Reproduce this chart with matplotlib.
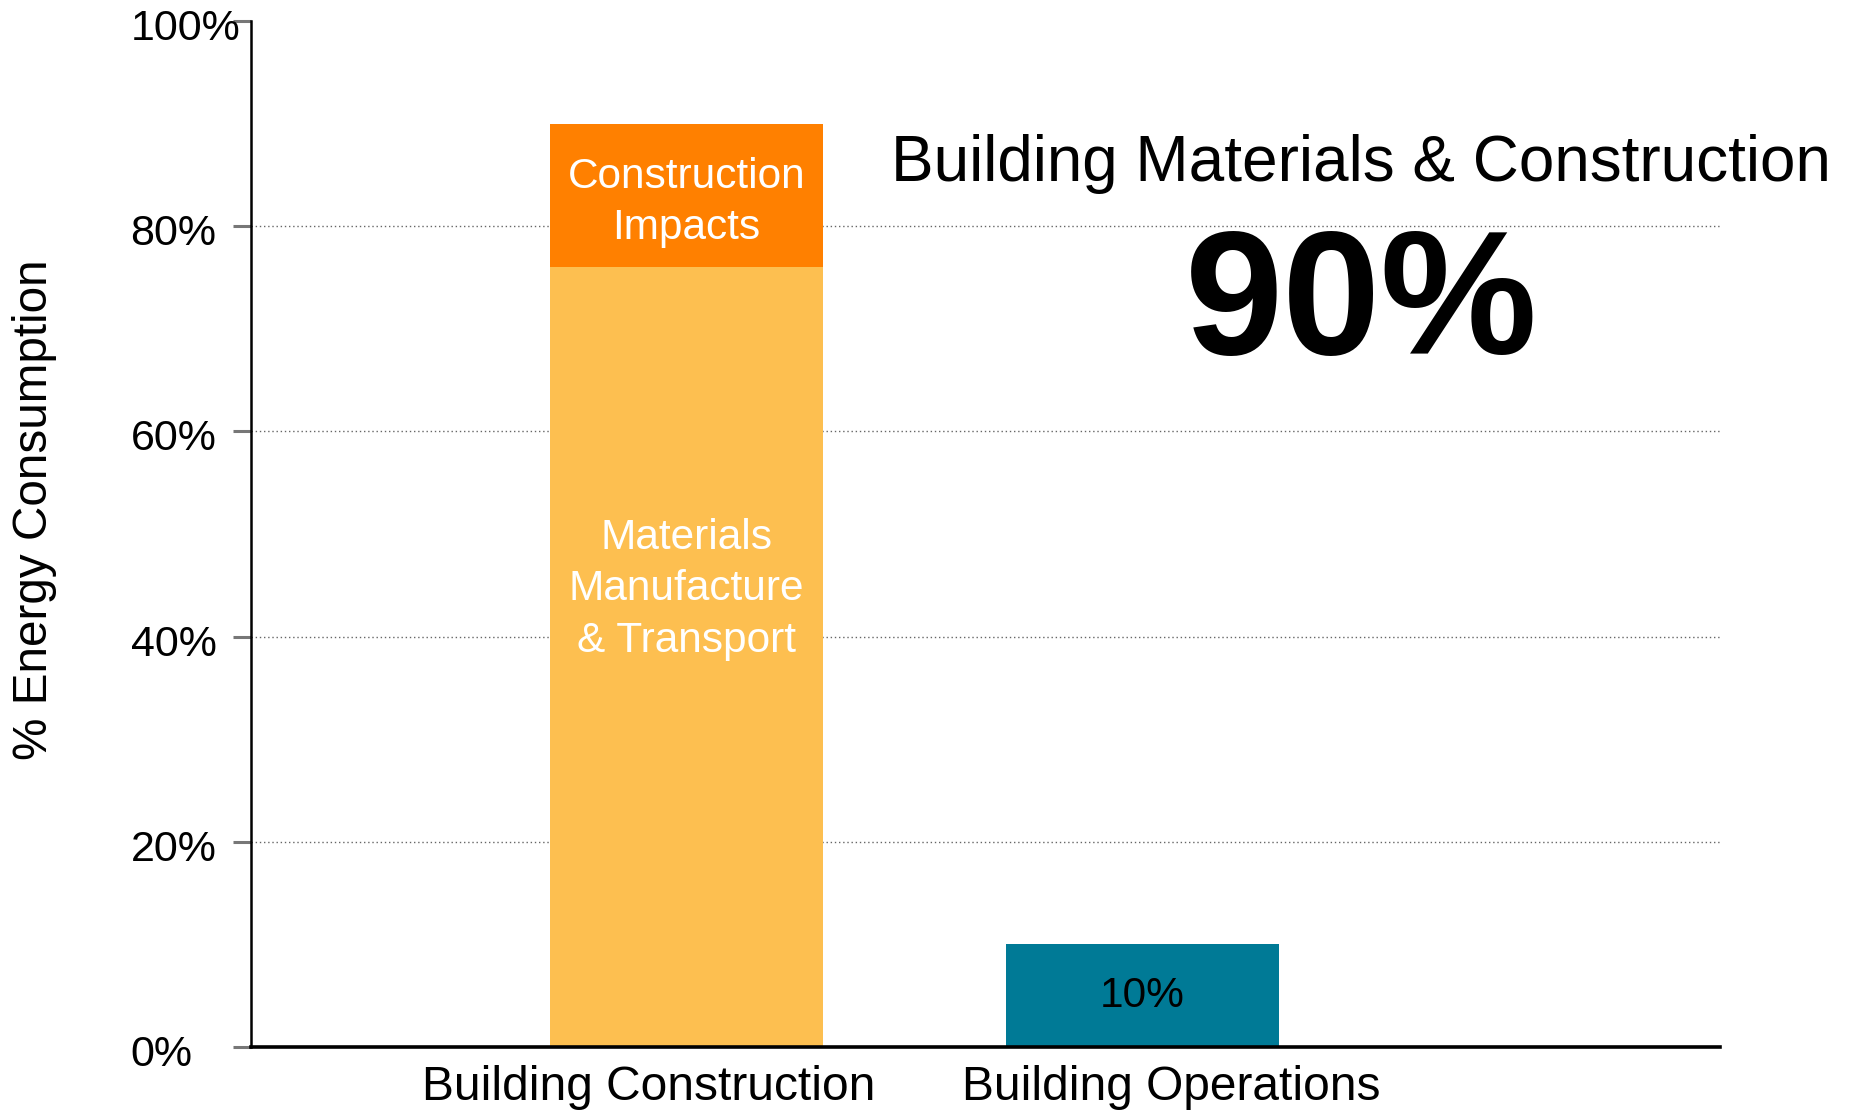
import matplotlib
matplotlib.use("Agg")
import matplotlib.pyplot as plt
import matplotlib.transforms as mtrans

plt.rcParams['font.family'] = ['Liberation Sans', 'DejaVu Sans']

# ---- data ----
categories = ["Building Construction", "Building Operations"]
materials = [76, 0]        # Materials Manufacture & Transport
construction = [14, 0]     # Construction Impacts
operations = [0, 10]       # Building Operations
y_ticks = [0, 20, 40, 60, 80, 100]
y_tick_labels = ["0%", "20%", "40%", "60%", "80%", "100%"]
headline = "Building Materials & Construction"
headline_value = "90%"
ops_label = "10%"

# ---- style ----
c_mat = "#FDBF50"
c_con = "#FF8000"
c_ops = "#007A96"

W, H = 1851, 1111
fig = plt.figure(figsize=(W / 100, H / 100), dpi=100)
ax = fig.add_axes([251.4 / W, 1 - 1047 / H, (1720 - 251.4) / W, (1047 - 21) / H])

x = list(range(len(categories)))
bw = 0.6
ax.bar(x[:1], materials[:1], width=bw, color=c_mat, zorder=3)
ax.bar(x[:1], construction[:1], bottom=materials[:1], width=bw, color=c_con, zorder=3)
ax.bar(x[1:], operations[1:], width=bw, color=c_ops, zorder=3)

ax.set_xlim(-0.955, 2.268)
ax.set_ylim(0, 100)

# grid lines (dotted) at inner ticks
for yv in y_ticks[1:-1]:
    ax.axhline(yv, color="#666666", ls=(0, (1, 2)), lw=1.0, zorder=1)

# spines
for s in ["top", "right"]:
    ax.spines[s].set_visible(False)
ax.spines["left"].set_linewidth(1.8)
ax.spines["bottom"].set_linewidth(2.6)
ax.spines["bottom"].set_zorder(4)

# y ticks
ax.set_yticks(y_ticks)
ax.set_yticklabels(y_tick_labels, fontsize=31, ha="left")
ax.tick_params(axis="y", direction="out", length=13, width=2.2, color="#777777", pad=74)
off = mtrans.ScaledTranslation(0, -8 / 100, fig.dpi_scale_trans)
for lbl in ax.get_yticklabels():
    lbl.set_va("center")
    lbl.set_transform(lbl.get_transform() + off)

# x ticks (labels slightly offset from bar centers as in reference)
label_offsets = [-0.084, 0.063]
ax.set_xticks([xi + o for xi, o in zip(x, label_offsets)])
ax.set_xticklabels(categories, fontsize=34.5)
ax.tick_params(axis="x", length=0, pad=13)

# y label
fig.text(35 / W, 1 - 510 / H, "% Energy Consumption", rotation=90, fontsize=34.3,
         ha="center", va="center")

# in-bar labels
ax.text(x[0], materials[0] + construction[0] / 2 - 0.7, "Construction\nImpacts", color="white",
        fontsize=30.5, ha="center", va="center", linespacing=1.36, zorder=5)
ax.text(x[0], 44.6, "Materials\nManufacture\n& Transport", color="white",
        fontsize=30.5, ha="center", va="center", linespacing=1.36, zorder=5)
ax.text(x[1], operations[1] / 2, ops_label, color="black",
        fontsize=30.5, ha="center", va="center", zorder=5)

# headline
fig.text(1361 / W, 1 - 164 / H, headline, fontsize=46, ha="center", va="center")
fig.text(1361 / W, 1 - 308 / H, headline_value, fontsize=127, fontweight="bold",
         ha="center", va="center")

fig.savefig("out.png", dpi=100)
